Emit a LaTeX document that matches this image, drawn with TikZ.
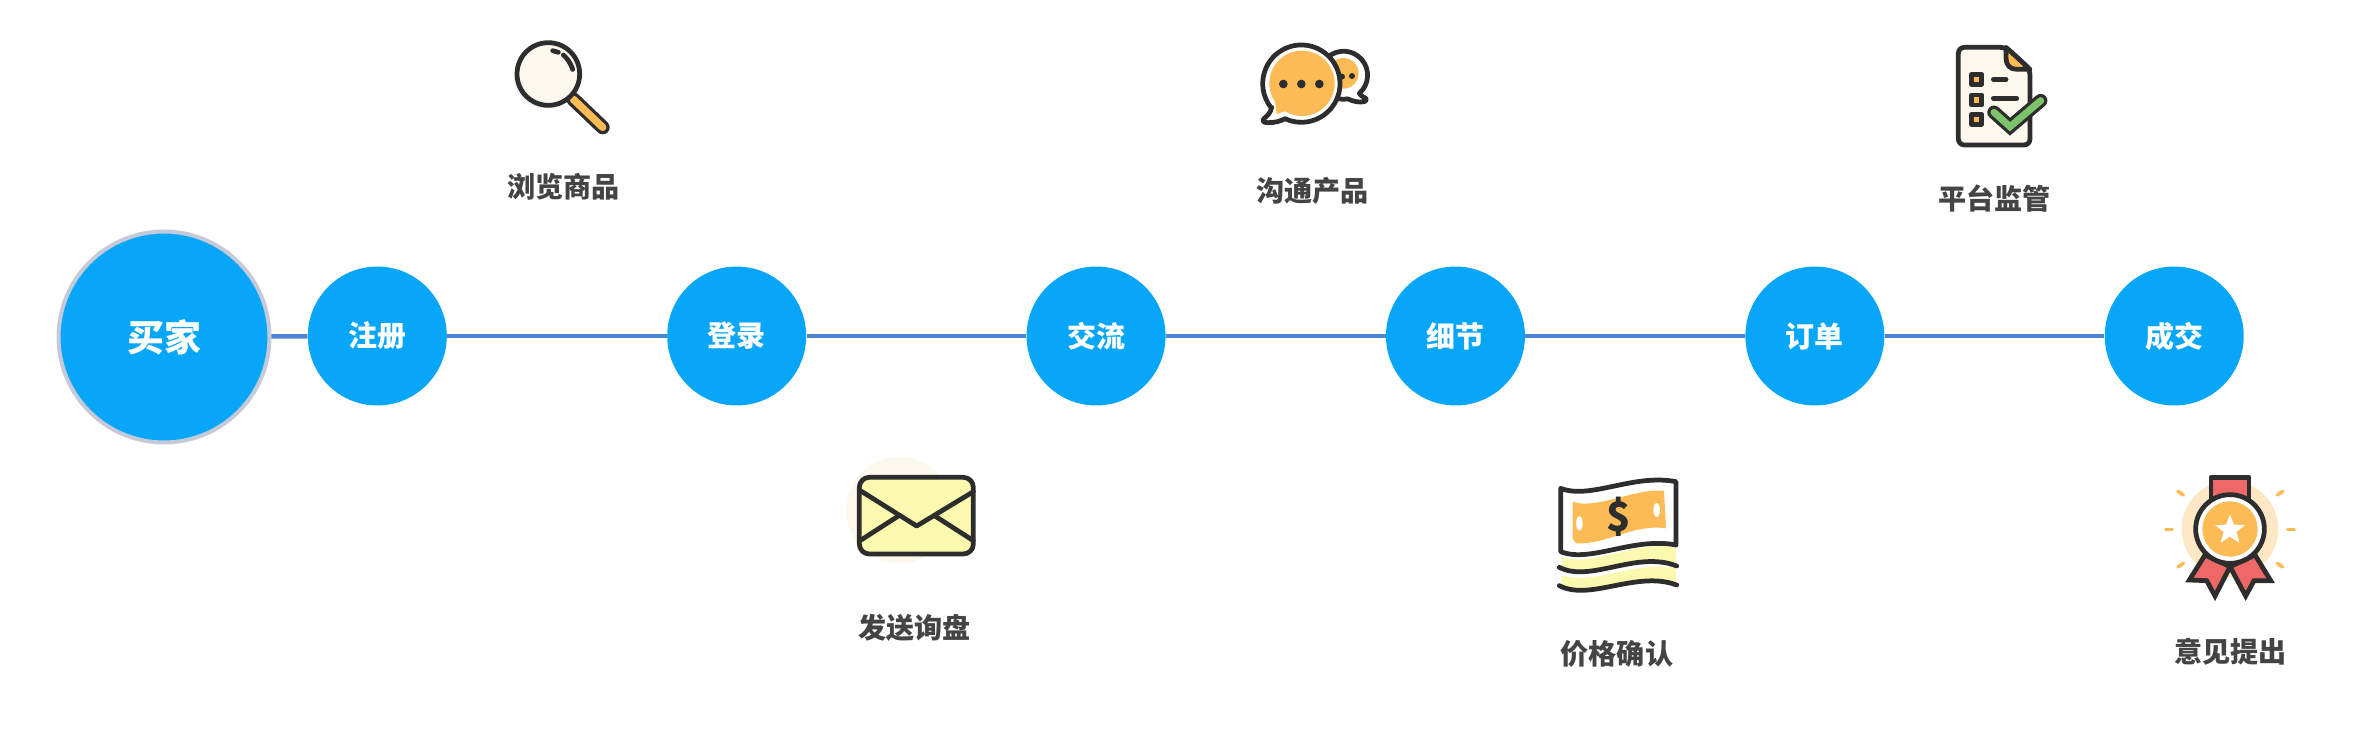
\documentclass[tikz,border=0pt]{standalone}
\usepackage{fontspec}
\setmainfont{Noto Sans CJK SC}
\usepackage{xcolor}
\usetikzlibrary{positioning}
\definecolor{skyfill}{HTML}{07A6F8}
\definecolor{ringgrey}{HTML}{C6CAD8}
\definecolor{linkblue}{HTML}{4B86D6}
\definecolor{ink}{HTML}{2D2D2D}
\definecolor{tagtext}{HTML}{444444}
\definecolor{amber}{HTML}{FDBB55}
\definecolor{cream}{HTML}{FDF8EE}
\definecolor{lemon}{HTML}{FBF9AE}
\definecolor{rose}{HTML}{EE6868}
\definecolor{leaf}{HTML}{7DC36B}
\begin{document}
\begin{tikzpicture}[
    x=0.02cm, y=-0.02cm,
    buyerdot/.style={circle, draw=ringgrey, line width=0.08cm, fill=skyfill, minimum size=4.22cm,
                     inner sep=0pt, text=white, font=\fontsize{21pt}{24pt}\selectfont\bfseries},
    stepdot/.style={circle, fill=skyfill, minimum size=2.78cm, inner sep=0pt, text=white,
                    font=\fontsize{16.5pt}{19pt}\selectfont\bfseries},
    tag/.style={minimum height=0.6cm, inner sep=0pt, text=tagtext,
                font=\fontsize{16pt}{19pt}\selectfont\bfseries},
    link/.style={draw=linkblue, line width=0.09cm},
    ink line/.style={draw=ink, line width=0.095cm, line join=round, line cap=round},
    ray/.style={draw=amber, line width=0.07cm, line cap=round},
  ]
  \useasboundingbox (0,0) rectangle (2372,730);

  % Timeline
  \node[buyerdot] (buyer) at (164,337) {买家};
  \node[stepdot, right=0.72cm of buyer, yshift=0.02cm] (signup) {注册};
  \node[stepdot, right=4.395cm of signup] (login) {登录};
  \node[stepdot, right=4.395cm of login] (talk) {交流};
  \node[stepdot, right=4.395cm of talk] (detail) {细节};
  \node[stepdot, right=4.395cm of detail] (order) {订单};
  \node[stepdot, right=4.395cm of order] (deal) {成交};

  \draw[link] (buyer) -- (signup);
  \draw[link] (signup) -- (login);
  \draw[link] (login) -- (talk);
  \draw[link] (talk) -- (detail);
  \draw[link] (detail) -- (order);
  \draw[link] (order) -- (deal);

  % Labels
  \node[tag, above=1.28cm of signup, xshift=3.72cm] (browse) {浏览商品};
  \node[tag, above=1.2cm of talk, xshift=4.33cm] (chat) {沟通产品};
  \node[tag, above=1.04cm of order, xshift=3.6cm] (audit) {平台监管};
  \node[tag, below=4.13cm of login, xshift=3.56cm] (inquiry) {发送询盘};
  \node[tag, below=4.65cm of detail, xshift=3.23cm] (price) {价格确认};
  \node[tag, below=4.61cm of deal, xshift=1.12cm] (advice) {意见提出};

  % Magnifier
  \begin{scope}[shift={(480,20)}, scale=1/3]
    \fill[blue!7] (197,170) circle (95);
    \draw[ink, line width=0.28cm, line cap=round] (280,238) -- (368,322);
    \draw[amber, line width=0.15cm, line cap=round] (280,238) -- (368,322);
    \draw[ink line, fill=cream] (205,162) circle (94);
    \draw[ink line] (218,92) -- (235,97);
    \draw[ink line] (250,105) .. controls (262,115) and (272,130) .. (278,148);
  \end{scope}

  % Speech bubbles
  \begin{scope}[shift={(1240,30)}, scale=1/3]
    \draw[ink line, fill=white] (358,190) arc[start angle=49, end angle=-280, radius=72]
      .. controls (340,215) and (360,218) .. (372,215)
      .. controls (382,212) and (380,205) .. (372,202)
      .. controls (365,198) and (360,195) .. (358,190) -- cycle;
    \fill[amber] (310,130) circle (46);
    \fill[ink] (336,138) circle (9);
    \fill[ink] (306,140) circle (9);
    \draw[ink line, fill=white] (95,232) .. controls (92,250) and (80,258) .. (70,268)
      .. controls (66,276) and (75,278) .. (85,278)
      .. controls (105,278) and (120,274) .. (135,266)
      arc[start angle=115, end angle=-219, radius=116] -- cycle;
    \fill[amber] (186,160) circle (98);
    \fill[amber] (105,215) -- (110,252) -- (145,240) -- cycle;
    \fill[ink] (130,162) circle (13);
    \fill[ink] (184,162) circle (13);
    \fill[ink] (238,162) circle (13);
  \end{scope}

  % Checklist
  \begin{scope}[shift={(1930,30)}, scale=1/3]
    \draw[ink line, fill=cream, rounded corners=0.12cm] (228,52) -- (85,52) -- (85,345) -- (300,345) -- (300,118) -- cycle;
    \draw[ink line, fill=amber] (228,52) -- (228,85) .. controls (228,105) and (240,118) .. (260,118) -- (300,118) -- cycle;
    \draw[ink line, fill=amber] (125,133) rectangle (155,163);
    \draw[ink line, fill=amber] (125,195) rectangle (155,225);
    \draw[ink line, fill=amber] (125,253) rectangle (155,283);
    \draw[ink line] (190,148) -- (228,148);
    \draw[ink line] (190,205) -- (260,205);
    \draw[ink, line width=0.27cm, line cap=round, line join=miter] (192,247) -- (240,290) -- (332,212);
    \draw[leaf, line width=0.14cm, line cap=round, line join=miter] (192,247) -- (240,290) -- (332,212);
  \end{scope}

  % Envelope
  \begin{scope}[shift={(840,440)}, scale=1/3]
    \fill[cream] (178,210) circle (160);
    \draw[ink line, fill=lemon, rounded corners=0.2cm] (58,112) rectangle (400,342);
    \draw[ink line] (58,150) -- (230,258) -- (400,155);
    \draw[ink line] (60,302) -- (175,228);
    \draw[ink line] (285,228) -- (400,302);
  \end{scope}

  % Banknote
  \begin{scope}[shift={(1540,460)}, scale=1/3]
    \fill[lemon] (65,290) .. controls (150,325) and (290,240) .. (408,262) -- (408,312)
      .. controls (290,275) and (150,370) .. (65,325) -- cycle;
    \fill[lemon] (65,345) .. controls (150,380) and (290,300) .. (408,325) -- (408,372)
      .. controls (290,330) and (150,425) .. (65,375) -- cycle;
    \draw[ink line, fill=white] (62,85) .. controls (150,120) and (280,40) .. (408,65) -- (408,255)
      .. controls (280,230) and (150,310) .. (62,275) -- cycle;
    \fill[amber] (98,125) .. controls (170,150) and (280,85) .. (372,92) -- (378,205)
      .. controls (280,190) and (200,255) .. (108,250) -- (98,235) -- cycle;
    \fill[white] (118,190) ellipse (10 and 21);
    \fill[white] (350,150) ellipse (10 and 21);
    \node[text=ink, font=\fontsize{23pt}{26pt}\selectfont\bfseries] (dollar) at (235,170) {\$};
    \draw[ink line] (58,322) .. controls (150,370) and (290,270) .. (410,318);
    \draw[ink line] (58,377) .. controls (150,425) and (290,330) .. (410,375);
  \end{scope}

  % Medal
  \begin{scope}[shift={(2150,460)}, scale=1/3]
    \fill[amber!35] (240,207) circle (145);
    \draw[ray] (84,94) -- (100,105);
    \draw[ray] (382,105) -- (398,94);
    \draw[ray] (47,208) -- (67,208);
    \draw[ray] (413,208) -- (433,208);
    \draw[ray] (84,321) -- (100,310);
    \draw[ray] (382,310) -- (398,321);
    \draw[ink line, fill=rose] (183,140) -- (183,52) -- (297,52) -- (297,140) -- cycle;
    \draw[ink line, fill=rose, line join=miter] (165,285) -- (118,360) -- (170,362) -- (195,408) -- (240,320) -- cycle;
    \draw[ink line, fill=rose, line join=miter] (315,285) -- (362,362) -- (312,362) -- (287,408) -- (240,320) -- cycle;
    \draw[ink line, fill=white] (240,207) circle (103);
    \fill[amber] (240,207) circle (83);
    \fill[white] (240,163) -- (252,194) -- (285,195) -- (259,216) -- (268,248) -- (240,230)
      -- (212,248) -- (221,216) -- (195,195) -- (228,194) -- cycle;
  \end{scope}
\end{tikzpicture}
\end{document}
